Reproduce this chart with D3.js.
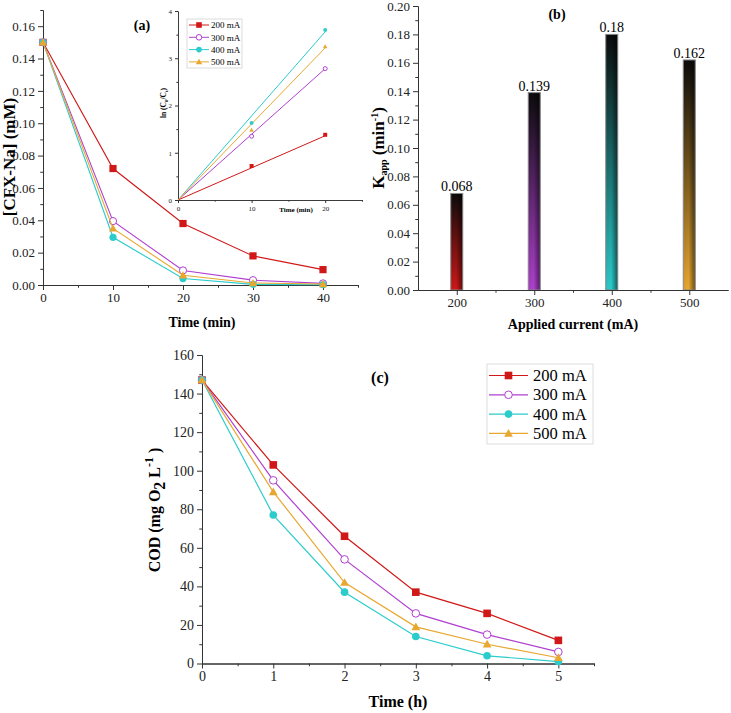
<!DOCTYPE html>
<html>
<head>
<meta charset="utf-8">
<script src="https://cdn.jsdelivr.net/npm/d3@7"></script>
<style>
  body { margin: 0; background: #fff; }
  svg text { font-family: "Liberation Serif", "Times New Roman", serif; }
</style>
</head>
<body>
<div id="chart"></div>
<script>
// ---- data ----
var currents = ["200 mA", "300 mA", "400 mA", "500 mA"];
var colors = ["#d01818", "#b040d0", "#2ccccc", "#e8a830"];
var shapes = ["square", "openCircle", "circle", "triangle"];

// (a) CFX-Na concentration vs time
var timeA = [0, 10, 20, 30, 40];
var cfx200 = [0.150, 0.072, 0.038, 0.018, 0.0095];
var cfx300 = [0.150, 0.0395, 0.009, 0.003, 0.001];
var cfx400 = [0.150, 0.0295, 0.004, 0.0004, 0.0002];
var cfx500 = [0.150, 0.035, 0.006, 0.0012, 0.0006];

// (a) inset, ln(C0/Ct)
var timeInset = [10, 20];
var ln200 = [0.72, 1.38];
var ln300 = [1.35, 2.78];
var ln400 = [1.63, 3.60];
var ln500 = [1.48, 3.25];
var fitTime = [0, 20];
var fit200 = [0, 1.36];
var fit300 = [0, 2.78];
var fit400 = [0, 3.56];
var fit500 = [0, 3.22];

// (b) apparent rate constants
var currentVals = [200, 300, 400, 500];
var kApp = [0.068, 0.139, 0.18, 0.162];
var kLabels = ["0.068", "0.139", "0.18", "0.162"];

// (c) COD vs time
var timeC = [0, 1, 2, 3, 4, 5];
var cod200 = [147, 103, 66, 37, 26, 12];
var cod300 = [147, 95, 54, 26, 15, 6];
var cod400 = [147, 77, 37, 14, 4, 1];
var cod500 = [147, 89, 42, 19, 10, 3];

var cfxSeries = [cfx200, cfx300, cfx400, cfx500];
var lnSeries = [ln200, ln300, ln400, ln500];
var fitSeries = [fit200, fit300, fit400, fit500];
var codSeries = [cod200, cod300, cod400, cod500];

var svg = d3.select('#chart').append('svg')
            .attr('width', 731)
            .attr('height', 713)
            .attr('font-family', 'Liberation Serif')
            .style('background-color', 'white');

// axis helper: major + minor ticks
function drawAxis(g, axisFn, scale, major, minor, fmt, fs, size) {
  var ax = g.append('g');
  ax.call(axisFn(scale).tickValues(major).tickFormat(fmt)
          .tickSize(size).tickSizeOuter(0).tickPadding(3));
  ax.append('g').call(axisFn(scale).tickValues(minor).tickFormat('')
          .tickSize(size * 0.55).tickSizeOuter(0));
  ax.selectAll('g').attr('font-family', 'Liberation Serif');
  ax.attr('font-family', 'Liberation Serif');
  ax.selectAll('text').attr('font-family', 'Liberation Serif').attr('font-size', fs).attr('fill', '#222');
  ax.selectAll('line,path').attr('stroke', '#333');
  return ax;
}

function marker(g, shape, x, y, r, col) {
  if (shape === 'square') {
    g.append('rect').attr('x', x - r).attr('y', y - r).attr('width', 2 * r).attr('height', 2 * r)
     .attr('fill', col);
  } else if (shape === 'openCircle') {
    g.append('circle').attr('cx', x).attr('cy', y).attr('r', r)
     .attr('fill', 'white').attr('stroke', col).attr('stroke-width', 1);
  } else if (shape === 'circle') {
    g.append('circle').attr('cx', x).attr('cy', y).attr('r', r).attr('fill', col);
  } else {
    var h = r * 1.15;
    g.append('path').attr('d', 'M' + x + ',' + (y - h) + 'L' + (x + h) + ',' + (y + h * 0.75) +
        'L' + (x - h) + ',' + (y + h * 0.75) + 'Z').attr('fill', col);
  }
}

function drawSeries(g, xs, ys, xScale, yScale, col, shape, r, lw) {
  var pts = xs.map(function(d, i){ return [xScale(d), yScale(ys[i])]; });
  g.append('path').attr('d', d3.line()(pts)).attr('fill', 'none')
   .attr('stroke', col).attr('stroke-width', lw);
  pts.forEach(function(p){ marker(g, shape, p[0], p[1], r, col); });
}

// ================= (a) =================
var xA = d3.scaleLinear().domain([0, 45]).range([43, 358]);
var yA = d3.scaleLinear().domain([0, 0.17]).range([285, 10]);
var gA = svg.append('g');

drawAxis(gA.append('g').attr('transform', 'translate(0,285)'), d3.axisBottom, xA,
         [0, 10, 20, 30, 40], [5, 15, 25, 35, 45], d3.format('d'), 13, 5);
drawAxis(gA.append('g').attr('transform', 'translate(43,0)'), d3.axisLeft, yA,
         d3.range(0, 0.161, 0.02), d3.range(0.01, 0.171, 0.02), d3.format('.2f'), 13, 5);

cfxSeries.forEach(function(s, i){
  drawSeries(gA, timeA, s, xA, yA, colors[i], shapes[i], 3.6, 1.1);
});

gA.append('text').attr('x', 202).attr('y', 327).attr('text-anchor', 'middle')
  .attr('font-weight', 'bold').attr('font-size', 14).text('Time (min)');
gA.append('text').attr('transform', 'translate(15,157) rotate(-90)').attr('text-anchor', 'middle')
  .attr('font-weight', 'bold').attr('font-size', 17).text('[CFX-Na] (mM)');
gA.append('text').attr('x', 142).attr('y', 30).attr('text-anchor', 'middle')
  .attr('font-weight', 'bold').attr('font-size', 14).text('(a)');

// ---- inset ----
var xI = d3.scaleLinear().domain([0, 25]).range([178, 362]);
var yI = d3.scaleLinear().domain([0, 4]).range([200, 11]);
var gI = svg.append('g');
drawAxis(gI.append('g').attr('transform', 'translate(0,200)'), d3.axisBottom, xI,
         [0, 10, 20], [5, 15, 25], d3.format('d'), 7, 3);
drawAxis(gI.append('g').attr('transform', 'translate(178,0)'), d3.axisLeft, yI,
         [0, 1, 2, 3, 4], [0.5, 1.5, 2.5, 3.5], d3.format('d'), 7, 3);
gI.selectAll('path.domain').attr('stroke-width', 0.8);

fitSeries.forEach(function(s, i){
  var pts = fitTime.map(function(t, j){ return [xI(t), yI(s[j])]; });
  gI.append('path').attr('d', d3.line()(pts)).attr('fill', 'none')
    .attr('stroke', colors[i]).attr('stroke-width', 1);
});
lnSeries.forEach(function(s, i){
  timeInset.forEach(function(t, j){
    marker(gI, shapes[i], xI(t), yI(s[j]), 2, colors[i]);
  });
});
gI.append('text').attr('x', 296).attr('y', 212).attr('text-anchor', 'middle')
  .attr('font-weight', 'bold').attr('font-size', 7).text('Time (min)');
var lnT = gI.append('text').attr('transform', 'translate(166,103) rotate(-90)').attr('text-anchor', 'middle')
  .attr('font-weight', 'bold').attr('font-size', 7.5);
lnT.append('tspan').text('ln (C');
lnT.append('tspan').attr('font-size', 5).attr('dy', 2).text('0');
lnT.append('tspan').attr('dy', -2).text('/C');
lnT.append('tspan').attr('font-size', 5).attr('dy', 2).text('t');
lnT.append('tspan').attr('dy', -2).text(')');

var legI = gI.append('g');
legI.append('rect').attr('x', 187).attr('y', 19).attr('width', 55).attr('height', 49)
    .attr('fill', 'white').attr('stroke', '#ccc').attr('stroke-width', 0.7);
currents.forEach(function(c, i){
  var ly = 25 + i * 12.3;
  legI.append('line').attr('x1', 189).attr('x2', 209).attr('y1', ly).attr('y2', ly)
      .attr('stroke', colors[i]).attr('stroke-width', 1);
  marker(legI, shapes[i], 199, ly, 2.8, colors[i]);
  legI.append('text').attr('x', 211).attr('y', ly + 3.2).attr('font-size', 9).text(c);
});

// ================= (b) =================
var xB = d3.scaleLinear().domain([150, 550]).range([418, 728]);
var yB = d3.scaleLinear().domain([0, 0.2]).range([290, 6]);
var gB = svg.append('g');

var defs = svg.append('defs');
currentVals.forEach(function(v, i){
  var lg = defs.append('linearGradient').attr('id', 'bar' + i)
               .attr('x1', 0).attr('y1', 0).attr('x2', 0).attr('y2', 1);
  lg.append('stop').attr('offset', '0%').attr('stop-color', '#0b0b0b');
  lg.append('stop').attr('offset', '100%').attr('stop-color', colors[i]);
});
var sh = defs.append('linearGradient').attr('id', 'shade')
             .attr('x1', 0).attr('y1', 0).attr('x2', 1).attr('y2', 0);
sh.append('stop').attr('offset', '0%').attr('stop-color', '#000').attr('stop-opacity', 0.05);
sh.append('stop').attr('offset', '45%').attr('stop-color', '#000').attr('stop-opacity', 0);
sh.append('stop').attr('offset', '100%').attr('stop-color', '#000').attr('stop-opacity', 0.55);

var barW = 12;
gB.selectAll('.bar').data(kApp).enter().append('rect').attr('class', 'bar')
  .attr('x', function(d, i){ return xB(currentVals[i]) - barW / 2; })
  .attr('y', function(d){ return yB(d); })
  .attr('width', barW)
  .attr('height', function(d){ return yB(0) - yB(d); })
  .attr('fill', function(d, i){ return 'url(#bar' + i + ')'; });
gB.selectAll('.shade').data(kApp).enter().append('rect').attr('class', 'shade')
  .attr('x', function(d, i){ return xB(currentVals[i]) - barW / 2; })
  .attr('y', function(d){ return yB(d); })
  .attr('width', barW)
  .attr('height', function(d){ return yB(0) - yB(d); })
  .attr('fill', 'url(#shade)').attr('stroke', '#888').attr('stroke-width', 1);
gB.selectAll('.vlab').data(kApp).enter().append('text').attr('class', 'vlab')
  .attr('x', function(d, i){ return xB(currentVals[i]); })
  .attr('y', function(d){ return yB(d) - 2; })
  .attr('text-anchor', 'middle').attr('font-size', 14)
  .text(function(d, i){ return kLabels[i]; });

drawAxis(gB.append('g').attr('transform', 'translate(0,290)'), d3.axisBottom, xB,
         currentVals, [250, 350, 450], d3.format('d'), 13, 5);
drawAxis(gB.append('g').attr('transform', 'translate(418,0)'), d3.axisLeft, yB,
         d3.range(0, 0.201, 0.02), d3.range(0.01, 0.2, 0.02), d3.format('.2f'), 13, 5);

gB.append('text').attr('x', 573).attr('y', 329).attr('text-anchor', 'middle')
  .attr('font-weight', 'bold').attr('font-size', 14).text('Applied current (mA)');
var kT = gB.append('text').attr('transform', 'translate(384,148) rotate(-90)').attr('text-anchor', 'middle')
  .attr('font-weight', 'bold').attr('font-size', 17);
kT.append('tspan').text('K');
kT.append('tspan').attr('font-size', 10).attr('dy', 3).text('app');
kT.append('tspan').attr('dy', -3).text(' (min');
kT.append('tspan').attr('font-size', 10).attr('dy', -6).text('-1');
kT.append('tspan').attr('dy', 6).text(')');
gB.append('text').attr('x', 557).attr('y', 19).attr('text-anchor', 'middle')
  .attr('font-weight', 'bold').attr('font-size', 14).text('(b)');

// ================= (c) =================
var xC = d3.scaleLinear().domain([0, 5.5]).range([202, 594]);
var yC = d3.scaleLinear().domain([0, 160]).range([663.5, 355]);
var gC = svg.append('g');

drawAxis(gC.append('g').attr('transform', 'translate(0,663.5)'), d3.axisBottom, xC,
         [0, 1, 2, 3, 4, 5], [0.5, 1.5, 2.5, 3.5, 4.5, 5.5], d3.format('d'), 14, 5);
drawAxis(gC.append('g').attr('transform', 'translate(202,0)'), d3.axisLeft, yC,
         d3.range(0, 161, 20), d3.range(10, 160, 20), d3.format('d'), 14, 5);

codSeries.forEach(function(s, i){
  drawSeries(gC, timeC, s, xC, yC, colors[i], shapes[i], 3.8, 1.2);
});

gC.append('text').attr('x', 398).attr('y', 707).attr('text-anchor', 'middle')
  .attr('font-weight', 'bold').attr('font-size', 16).text('Time (h)');
var cT = gC.append('text').attr('transform', 'translate(160,510) rotate(-90)').attr('text-anchor', 'middle')
  .attr('font-weight', 'bold').attr('font-size', 16);
cT.append('tspan').text('COD (mg O');
cT.append('tspan').attr('dy', 5).text('2');
cT.append('tspan').attr('dy', -5).text(' L');
cT.append('tspan').attr('dy', -7).attr('font-size', 12).text('-1');
cT.append('tspan').attr('dy', 7).text(' )');
gC.append('text').attr('x', 380).attr('y', 383).attr('text-anchor', 'middle')
  .attr('font-weight', 'bold').attr('font-size', 16).text('(c)');

var legC = gC.append('g');
legC.append('rect').attr('x', 487).attr('y', 364).attr('width', 106).attr('height', 80)
    .attr('fill', 'white').attr('stroke', '#ddd').attr('stroke-width', 1);
currents.forEach(function(c, i){
  var ly = 375.5 + i * 19.3;
  legC.append('line').attr('x1', 489).attr('x2', 528).attr('y1', ly).attr('y2', ly)
      .attr('stroke', colors[i]).attr('stroke-width', 1.2);
  marker(legC, shapes[i], 508.5, ly, 3.8, colors[i]);
  legC.append('text').attr('x', 533).attr('y', ly + 5.5).attr('font-size', 16.5).text(c);
});
</script>
</body>
</html>
